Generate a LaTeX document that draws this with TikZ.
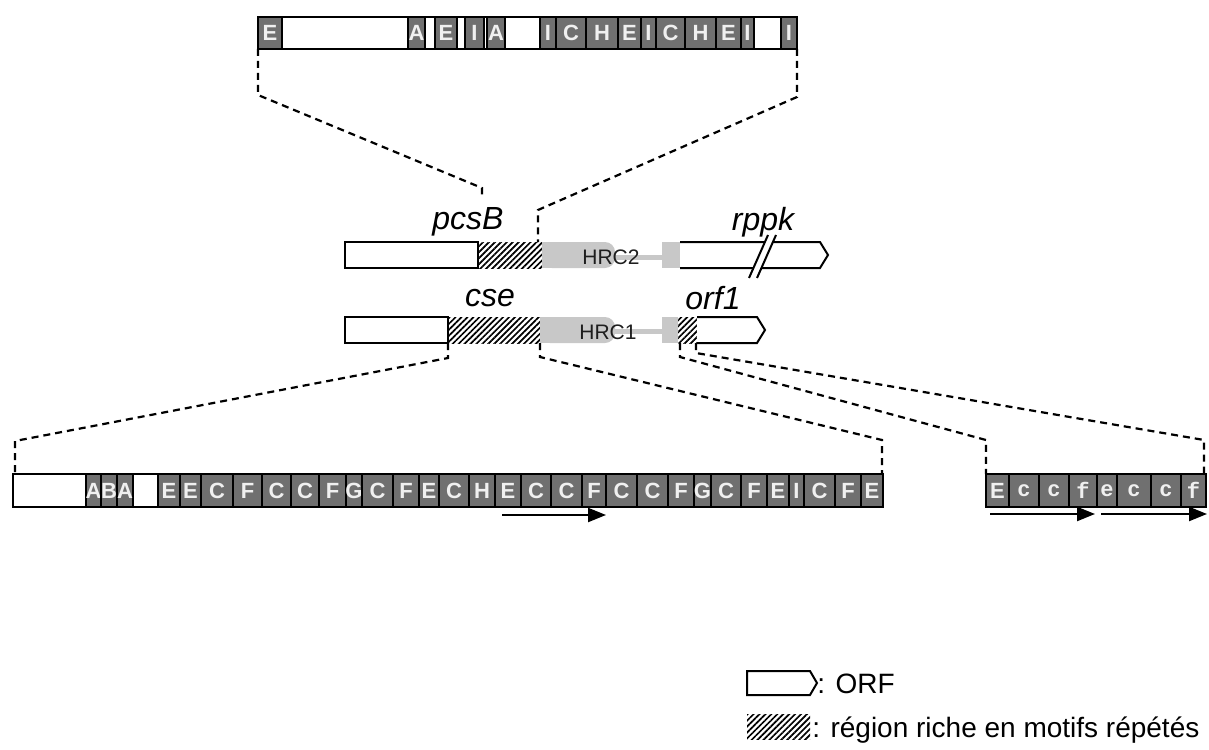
\documentclass[tikz,border=0pt]{standalone}
\usepackage{fontspec}
\setmainfont{Liberation Sans}
\setmonofont{Liberation Mono}
\usetikzlibrary{arrows.meta,patterns.meta}
\definecolor{motifgrey}{RGB}{112,112,112}
\definecolor{motiftext}{RGB}{240,240,240}
\definecolor{hrcgrey}{RGB}{200,200,200}
\definecolor{hrctext}{RGB}{30,30,30}

\begin{document}
\begin{tikzpicture}[x=0.5pt, y=-0.5pt,
    seqbar/.style={draw=black, line width=1.3pt, fill=white},
    motif/.style={draw=black, line width=1.3pt, fill=motifgrey},
    mlabel/.style={font=\fontsize{11}{12}\selectfont\bfseries, text=motiftext, inner sep=0pt},
    mlower/.style={font=\fontsize{11}{11}\selectfont\ttfamily\bfseries, text=motiftext, inner sep=0pt},
    orf/.style={draw=black, line width=1pt, fill=white},
    repeats/.style={pattern={Lines[angle=45,distance=2.1pt,line width=0.85pt]}},
    hrc/.style={fill=hrcgrey},
    gene/.style={font=\fontsize{16}{18}\selectfont\itshape, inner sep=0pt},
    hrclabel/.style={font=\fontsize{10.5}{12}\selectfont, text=hrctext, inner sep=0pt},
    zoomline/.style={line width=1.1pt, dash pattern=on 3.5pt off 2.5pt},
    repeatarrow/.style={line width=1.1pt, -{Triangle[length=9pt,width=7pt]}},
    legend/.style={font=\fontsize{14}{16}\selectfont, inner sep=0pt, anchor=base west}
]
\useasboundingbox (0,0) rectangle (1209,749);

% motif bar of pcsB (top)
\draw[seqbar] (258,17) coordinate (top nw) rectangle (797,49) coordinate (top se);
\foreach \a/\b/\t [count=\i] in {258/282/E,408/425/A,435/457/E,465/484/I,487/505/A,
    540/556/I,556/586/C,586/618/H,618/641/E,641/656/I,656/685/C,685/716/H,716/741/E,
    741/754/I,781/797/I}{
  \draw[motif] (\a,17) rectangle (\b,49);
  \node[mlabel] (t\i) at ({(\a+\b)/2},33) {\t};
}
\coordinate (top sw) at (top nw |- top se);

% gene pcsB / HRC2 / rppk
\draw[orf] (345,242) rectangle (478,268);
\fill[repeats] (478,242) rectangle (542,268);
\fill[hrc, rounded corners=5pt] (542,242) rectangle (615,268);
\fill[hrc] (542,242) rectangle (595,268);
\fill[hrc] (615,255) rectangle (662,260);
\fill[hrc] (662,242) rectangle (680,268);
\draw[orf] (680,242) -- (820,242) -- (828,255) -- (820,268) -- (680,268);
\fill[white] (749,278) -- (768,235) -- (776,235) -- (757,278) -- cycle;
\draw[line width=1pt] (749,278) -- (768,235) (757,278) -- (776,235);
\coordinate (rep1 w) at (482,196);
\coordinate (rep1 e) at (538,242);
\node[gene] (pcsB) at (468,222) {pcsB};
\node[gene] (rppk) at (763,222) {rppk};
\node[hrclabel] (hrc2) at (611,257) {HRC2};

% gene cse / HRC1 / orf1
\draw[orf] (345,317) rectangle (448,343);
\fill[repeats] (448,317) rectangle (540,343);
\fill[hrc, rounded corners=5pt] (540,317) rectangle (615,343);
\fill[hrc] (540,317) rectangle (595,343);
\fill[hrc] (615,329) rectangle (662,334);
\fill[hrc] (662,317) rectangle (678,343);
\fill[repeats] (678,317) rectangle (697,343);
\draw[orf] (697,317) -- (757,317) -- (765,330) -- (757,343) -- (697,343);
\coordinate (rep2 sw) at (448,343);
\coordinate (rep2 se) at (540,343);
\coordinate (rep3 sw) at (680,343);
\coordinate (rep3 se) at (696,343);
\node[gene] (cse) at (490,298) {cse};
\node[gene] (orf1) at (713,298) {orf1};
\node[hrclabel] (hrc1) at (608,332) {HRC1};

% motif bar of cse (bottom left)
\draw[seqbar] (13,474) coordinate (bl nw) rectangle (883,507) coordinate (bl se);
\foreach \a/\b/\t [count=\i] in {86/101/A,101/117/B,117/133/A,158/180/E,180/201/E,
    201/233/C,233/262/F,262/291/C,291/319/C,319/346/F,346/362/G,362/393/C,393/419/F,
    419/439/E,439/469/C,469/495/H,495/521/E,521/551/C,551/582/C,582/606/F,606/637/C,
    637/668/C,668/694/F,694/711/G,711/741/C,741/767/F,767/789/E,789/804/I,804/835/C,
    835/861/F,861/883/E}{
  \draw[motif] (\a,474) rectangle (\b,507);
  \node[mlabel] (l\i) at ({(\a+\b)/2},490.5) {\t};
}
\coordinate (bl ne) at (bl se |- bl nw);
\draw[repeatarrow] (502,515) -- (606,515);

% motif bar of orf1 (bottom right)
\draw[seqbar] (986,474) coordinate (br nw) rectangle (1206,507) coordinate (br se);
\draw[motif] (986,474) rectangle (1009,507);
\node[mlabel] (r0) at (997.5,490.5) {E};
\foreach \a/\b/\t [count=\i] in {1009/1039/c,1039/1069/c,1069/1097/f,1097/1117/e,
    1117/1151/c,1151/1181/c,1181/1206/f}{
  \draw[motif] (\a,474) rectangle (\b,507);
  \node[mlower] (r\i) at ({(\a+\b)/2},490.5) {\t};
}
\coordinate (br ne) at (br se |- br nw);
\draw[repeatarrow] (990,514) -- (1095,514);
\draw[repeatarrow] (1101,514) -- (1207,514);

% zoom lines
\draw[zoomline] (top sw) -- ++(0,46) -- (482,188) -- (rep1 w);
\draw[zoomline] (top se) -- ++(0,48) -- (538,210) -- (rep1 e);
\draw[zoomline] (rep2 sw) -- ++(0,15) -- (15,441) -- (15,474);
\draw[zoomline] (rep2 se) -- ++(0,14) -- (882,440) -- (882,474);
\draw[zoomline] (rep3 sw) -- ++(0,14) -- (986,440) -- (br nw);
\draw[zoomline] (rep3 se) -- ++(0,10) -- (1204,440) -- (1204,474);

% legend
\draw[orf] (747,671) -- (810,671) -- (817,683) -- (810,695) -- (747,695) -- cycle;
\node[legend] (orf key) at (817,693) {: ORF};
\fill[repeats] (747,714) rectangle (810,739);
\node[legend] (rep key) at (812,737) {: région riche en motifs répétés};
\end{tikzpicture}
\end{document}
